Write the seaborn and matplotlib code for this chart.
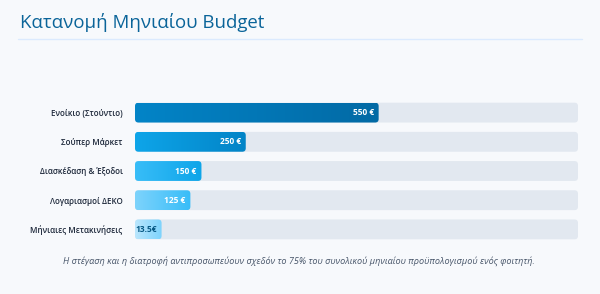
import matplotlib
matplotlib.use("Agg")
import matplotlib.pyplot as plt
import numpy as np
import pandas as pd
import seaborn as sns
from matplotlib.patches import FancyBboxPatch

categories = ["Ενοίκιο (Στούντιο)", "Σούπερ Μάρκετ", "Διασκέδαση & Έξοδοι",
              "Λογαριασμοί ΔΕΚΟ", "Μήνιαιες Μετακινήσεις"]
values = [550, 250, 150, 125, 13.5]
labels = ["550 €", "250 €", "150 €", "125 €", "13.5€"]
track_max = 1000
title = "Κατανομή Μηνιαίου Budget"
note = ("Η στέγαση και η διατροφή αντιπροσωπεύουν σχεδόν το 75% "
        "του συνολικού μηνιαίου προϋπολογισμού ενός φοιτητή.")

# gradient (left, right) per bar
colors = [("#0284c7", "#036aa5"), ("#0ea5e9", "#0284c7"), ("#38bdf8", "#0ea5e9"),
          ("#7dd3fc", "#38bdf8"), ("#bae6fd", "#7dd3fc")]
min_width = 60  # bar keeps room for its label

df = pd.DataFrame({"cat": categories, "val": values})
df["shown"] = df["val"].clip(lower=min_width)
df["track"] = track_max

sns.set_theme(style="white")
plt.rcParams["font.family"] = ["Open Sans", "DejaVu Sans"]

W, H = 600, 294
fig = plt.figure(figsize=(6, 2.94), dpi=100, facecolor="#f7f9fc")

# title + rule
fig.text(20 / W, 1 - 23 / H, title, fontsize=13.4, color="#0a6499",
         va="center", ha="left", fontweight="normal")
fig.add_artist(plt.Line2D([18 / W, 582 / W], [1 - 39 / H] * 2,
                          color="#dbeafe", lw=1))

ax_top, ax_bot = 98, 244
ax = fig.add_axes([135 / W, 1 - ax_bot / H, 443 / W, (ax_bot - ax_top) / H])
ax.set_facecolor("none")

bh = 0.68
sns.barplot(data=df, y="cat", x="track", color="#e2e8f0", width=bh, ax=ax)
sns.barplot(data=df, y="cat", x="shown", color="#0ea5e9", width=bh, ax=ax)
ax.set_xlim(0, track_max)
ax.set_ylim(len(categories) - 0.5, -0.5)

xu = track_max / 443
yu = len(categories) / (ax_bot - ax_top)
r = 3.5 * xu
aspect = yu / xu

n = len(categories)
for i, p in enumerate(list(ax.patches)):
    x0, y0 = p.get_x(), p.get_y()
    w, h = p.get_width(), p.get_height()
    p.remove()
    is_track = i < n
    fb = FancyBboxPatch((x0, y0), w, h,
                        boxstyle=f"round,pad=0,rounding_size={r}",
                        mutation_aspect=aspect, lw=0,
                        fc="#e2e8f0" if is_track else "none", zorder=1 if is_track else 2)
    ax.add_patch(fb)
    if not is_track:
        k = i - n
        c0 = np.array(matplotlib.colors.to_rgb(colors[k][0]))
        c1 = np.array(matplotlib.colors.to_rgb(colors[k][1]))
        t = np.linspace(0, 1, 64)[None, :, None]
        grad = c0 + (c1 - c0) * t
        im = ax.imshow(grad, extent=(x0, x0 + w, y0 + h, y0), aspect="auto",
                       zorder=2, interpolation="bilinear")
        im.set_clip_path(fb)
        last = k == n - 1
        ax.text(x0 + w - 5 * xu, y0 + h / 2, labels[k], ha="right", va="center",
                fontsize=6, fontweight="bold", zorder=3,
                color="#075985" if last else "white")

ax.set_xlim(0, track_max)
ax.set_ylim(len(categories) - 0.5, -0.5)
ax.set_xlabel("")
ax.set_ylabel("")
ax.set_xticks([])
ax.tick_params(axis="y", length=0, pad=9, labelsize=5.8, labelcolor="#1e293b")
for lab in ax.get_yticklabels():
    lab.set_fontweight("semibold")
sns.despine(ax=ax, left=True, bottom=True)

fig.text(299 / W, 1 - 261 / H, note, fontsize=6.6, style="italic",
         color="#475569", ha="center", va="center")

fig.savefig("out.png", dpi=100, facecolor=fig.get_facecolor())
